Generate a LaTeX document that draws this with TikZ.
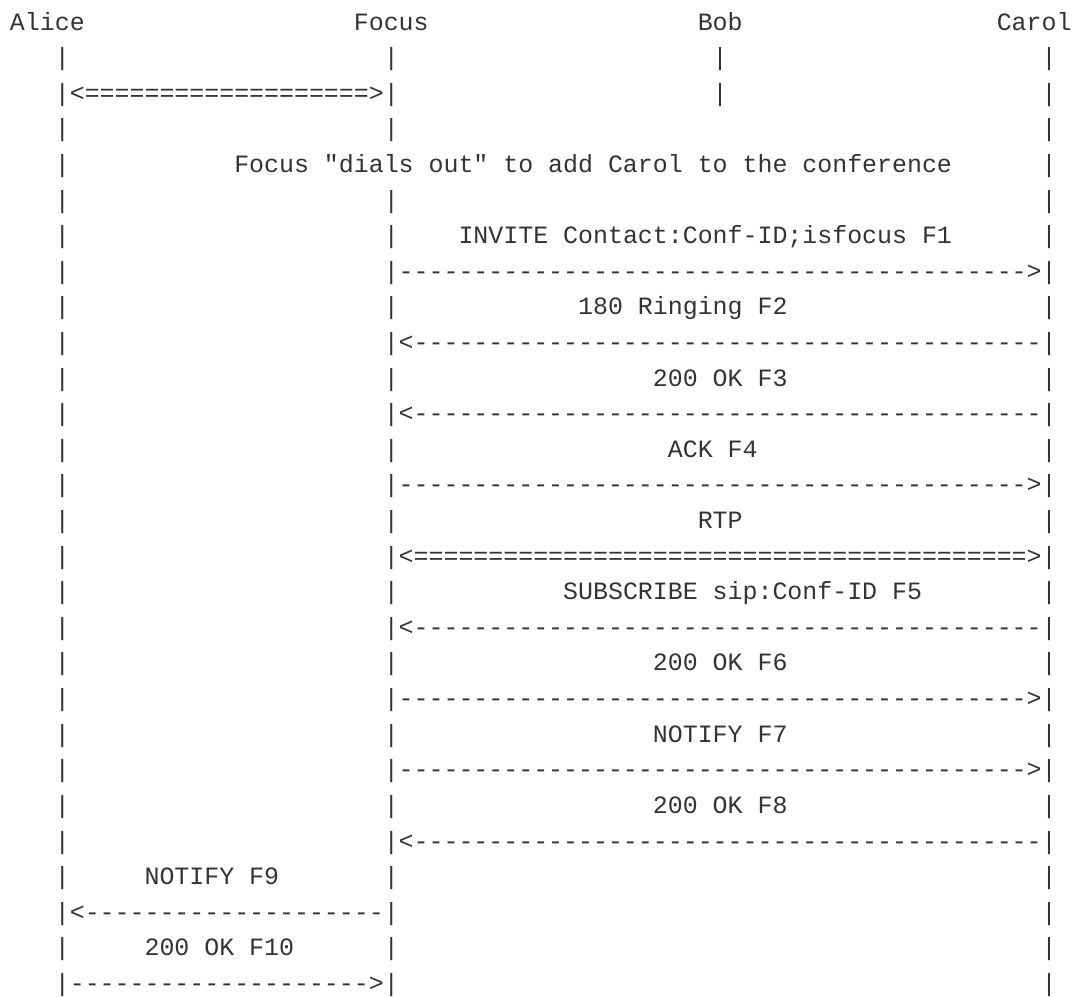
\documentclass[tikz,border=0pt]{standalone}
\usepackage{fontspec}
\setmonofont{Liberation Mono}
\definecolor{ink}{HTML}{333333}
\ExplSyntaxOn
\NewDocumentCommand\rep{mm}{\prg_replicate:nn{#1}{#2}}
\ExplSyntaxOff

\begin{document}
\begin{tikzpicture}[
    x=6pt, y=-14.29pt,
    txt/.style={anchor=base west, inner sep=0pt, outer sep=0pt, text=ink,
                font=\ttfamily\frenchspacing\fontsize{10pt}{12pt}\selectfont},
    bar/.style={txt}
]
\useasboundingbox (0pt,0pt) rectangle (430.2pt,-399.7pt);

\begin{scope}[shift={(4.01pt,2.25pt)}]
% ----------------- participants (column, row) -----------------
\node[txt] (alice) at (0,1)  {Alice};
\node[txt] (focus) at (23,1) {Focus};
\node[txt] (bob)   at (46,1) {Bob};
\node[txt] (carol) at (66,1) {Carol};

% ----------------- lifelines -----------------
\foreach \r in {2,...,28}         \node[bar] (a\r) at (3,\r)  {|};
\foreach \r in {2,3,4,6,7,...,28} \node[bar] (f\r) at (25,\r) {|};
\foreach \r in {2,3}              \node[bar] (b\r) at (47,\r) {|};
\foreach \r in {2,...,28}         \node[bar] (c\r) at (69,\r) {|};

% ----------------- Alice <-> Focus session -----------------
\node[txt] (media1) at (4,3) {<\rep{19}{=}>};

% note across the diagram
\node[txt] (note) at (15,5) {Focus "dials out" to add Carol to the conference};

% ----------------- Focus <-> Carol -----------------
\node[txt] (invite)  at (30,7)  {INVITE Contact:Conf-ID;isfocus F1};
\node[txt] (m1)      at (26,8)  {\rep{42}{-}>};
\node[txt] (ringing) at (38,9)  {180 Ringing F2};
\node[txt] (m2)      at (26,10) {<\rep{42}{-}};
\node[txt] (ok3)     at (43,11) {200 OK F3};
\node[txt] (m3)      at (26,12) {<\rep{42}{-}};
\node[txt] (ack)     at (44,13) {ACK F4};
\node[txt] (m4)      at (26,14) {\rep{42}{-}>};
\node[txt] (rtp)     at (46,15) {RTP};
\node[txt] (media2)  at (26,16) {<\rep{41}{=}>};
\node[txt] (sub)     at (37,17) {SUBSCRIBE sip:Conf-ID F5};
\node[txt] (m5)      at (26,18) {<\rep{42}{-}};
\node[txt] (ok6)     at (43,19) {200 OK F6};
\node[txt] (m6)      at (26,20) {\rep{42}{-}>};
\node[txt] (ntf7)    at (43,21) {NOTIFY F7};
\node[txt] (m7)      at (26,22) {\rep{42}{-}>};
\node[txt] (ok8)     at (43,23) {200 OK F8};
\node[txt] (m8)      at (26,24) {<\rep{42}{-}};

% ----------------- Focus -> Alice -----------------
\node[txt] (ntf9)    at (9,25)  {NOTIFY F9};
\node[txt] (m9)      at (4,26)  {<\rep{20}{-}};
\node[txt] (ok10)    at (9,27)  {200 OK F10};
\node[txt] (m10)     at (4,28)  {\rep{20}{-}>};
\end{scope}

\end{tikzpicture}
\end{document}
